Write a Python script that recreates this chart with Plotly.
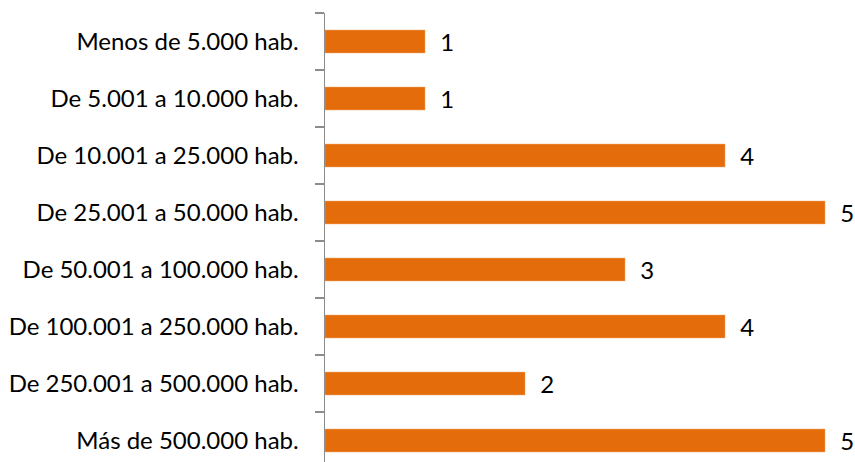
import plotly.graph_objects as go

categories = [
    "Menos de 5.000 hab.",
    "De 5.001 a 10.000 hab.",
    "De 10.001 a 25.000 hab.",
    "De 25.001 a 50.000 hab.",
    "De 50.001 a 100.000 hab.",
    "De 100.001 a 250.000 hab.",
    "De 250.001 a 500.000 hab.",
    "Más de 500.000 hab.",
]
values = [1, 1, 4, 5, 3, 4, 2, 5]

FONT = "Lato"

fig = go.Figure(go.Bar(
    x=values,
    y=categories,
    orientation="h",
    marker=dict(color="#E46C0A", line=dict(color="#F0A060", width=0.5)),
    text=values,
    texttemplate="  %{x}",
    textposition="outside",
    constraintext="none",
    cliponaxis=False,
    textfont=dict(family=FONT, size=24, color="#000000"),
))

fig.update_layout(
    template="none",
    width=855,
    height=462,
    margin=dict(l=325, r=0, t=13, b=0, autoexpand=False),
    paper_bgcolor="white",
    plot_bgcolor="white",
    bargap=0.6,
    showlegend=False,
    font=dict(family=FONT, size=24, color="#000000"),
)
fig.update_xaxes(
    range=[0, 5.3],
    visible=False,
    showgrid=False,
    zeroline=False,
    automargin=False,
)
fig.update_yaxes(
    type="category",
    range=[7.377, -0.5],
    automargin=False,
    showline=True,
    linecolor="#8C8C8C",
    linewidth=1.5,
    ticks="outside",
    tickson="boundaries",
    ticklen=9,
    tickcolor="#8C8C8C",
    tickwidth=1.5,
    ticklabelstandoff=20,
    showgrid=False,
    zeroline=False,
    tickfont=dict(family=FONT, size=24, color="#000000"),
)

fig.write_html(
    "out.html",
    config={"displayModeBar": False, "staticPlot": True},
    post_script="document.body.style.margin='0';document.body.style.overflow='hidden';",
)
